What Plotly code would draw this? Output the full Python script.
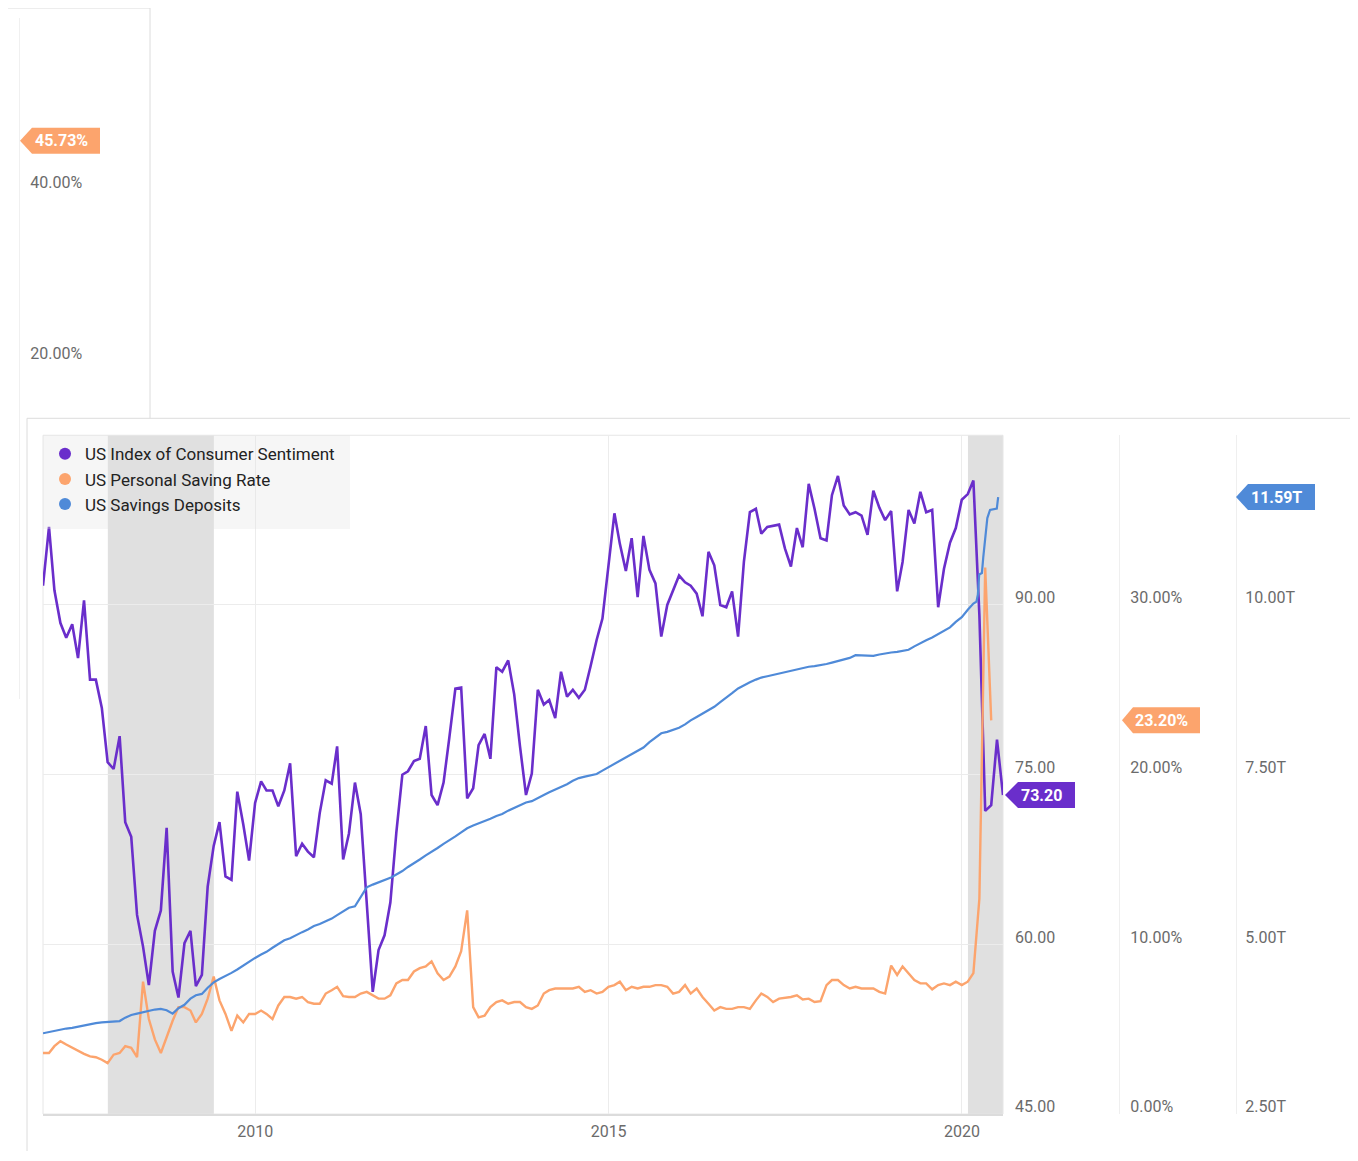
import pandas as pd
import plotly.graph_objects as go

# page body has an 8px margin; figure is sized so it fits the window
OFF = 8
FW, FH = 1342, 1145

# ---------------- data ----------------
# US Index of Consumer Sentiment, monthly, Dec 2006 .. Jul 2020
sentiment = [
    91.7,
    96.9, 91.3, 88.4, 87.1, 88.3, 85.3, 90.4, 83.4, 83.4, 80.9, 76.1, 75.5,
    78.4, 70.8, 69.5, 62.6, 59.8, 56.4, 61.2, 63.0, 70.3, 57.6, 55.3, 60.1,
    61.2, 56.3, 57.3, 65.1, 68.7, 70.8, 66.0, 65.7, 73.5, 70.6, 67.4, 72.5,
    74.4, 73.6, 73.6, 72.2, 73.6, 76.0, 67.8, 68.9, 68.2, 67.7, 71.6, 74.5,
    74.2, 77.5, 67.5, 69.8, 74.3, 71.5, 63.7, 55.8, 59.5, 60.8, 63.7, 69.9,
    75.0, 75.3, 76.2, 76.4, 79.3, 73.2, 72.3, 74.3, 78.3, 82.6, 82.7, 72.9,
    73.8, 77.6, 78.6, 76.4, 84.5, 84.1, 85.1, 82.1, 77.5, 73.2, 75.1, 82.5,
    81.2, 81.6, 80.0, 84.1, 81.9, 82.5, 81.8, 82.5, 84.6, 86.9, 88.8, 93.6,
    98.1, 95.4, 93.0, 95.9, 90.7, 96.1, 93.1, 91.9, 87.2, 90.0, 91.3, 92.6,
    92.0, 91.7, 91.0, 89.0, 94.7, 93.5, 90.0, 89.8, 91.2, 87.2, 93.8, 98.2,
    98.5, 96.3, 96.9, 97.0, 97.1, 95.0, 93.4, 96.8, 95.1, 100.7, 98.5, 95.9,
    95.7, 99.7, 101.4, 98.8, 98.0, 98.2, 97.9, 96.2, 100.1, 98.6, 97.5, 98.3,
    91.2, 93.8, 98.4, 97.2, 100.0, 98.2, 98.4, 89.8, 93.2, 95.5, 96.8, 99.3,
    99.8, 101.0, 89.1, 71.8, 72.3, 78.1, 73.2,
]

# US Personal Saving Rate (%), monthly, Dec 2006 .. May 2020
saving_rate = [
    3.6,
    3.6, 4.0, 4.3, 4.1, 3.9, 3.7, 3.55, 3.4, 3.35, 3.2, 3.0, 3.5,
    3.6, 4.0, 3.9, 3.35, 7.8, 5.6, 4.4, 3.6, 4.6, 5.5, 6.3, 6.3,
    6.1, 5.4, 5.9, 6.8, 8.1, 6.7, 5.9, 4.9, 5.8, 5.4, 5.9, 5.9,
    6.1, 5.9, 5.6, 6.4, 6.9, 6.9, 6.8, 6.9, 6.6, 6.5, 6.5, 7.1,
    7.3, 7.5, 6.95, 6.9, 6.9, 7.1, 7.2, 7.0, 6.8, 6.8, 7.0, 7.7,
    7.9, 7.9, 8.4, 8.6, 8.7, 9.0, 8.3, 7.9, 8.1, 8.7, 9.6, 12.0,
    6.3, 5.7, 5.8, 6.3, 6.6, 6.7, 6.5, 6.6, 6.6, 6.3, 6.2, 6.4,
    7.1, 7.3, 7.4, 7.4, 7.4, 7.4, 7.5, 7.2, 7.3, 7.1, 7.2, 7.5,
    7.6, 7.8, 7.3, 7.5, 7.4, 7.5, 7.5, 7.6, 7.6, 7.5, 7.1, 7.2,
    7.6, 7.1, 7.4, 6.9, 6.5, 6.1, 6.3, 6.2, 6.2, 6.3, 6.3, 6.2,
    6.7, 7.1, 6.9, 6.6, 6.8, 6.85, 6.9, 7.0, 6.75, 6.8, 6.6, 6.65,
    7.6, 7.9, 7.9, 7.6, 7.4, 7.5, 7.4, 7.4, 7.4, 7.2, 7.1, 8.75,
    8.2, 8.7, 8.3, 7.9, 7.7, 7.7, 7.35, 7.6, 7.7, 7.6, 7.8, 7.6,
    7.8, 8.3, 12.7, 32.2, 23.2,
]

# US Savings Deposits (trillions USD), month-end Dec 2006 .. Feb 2020
deposits_monthly = [
    3.69,
    3.71, 3.73, 3.74, 3.76, 3.77, 3.79, 3.81, 3.83, 3.84, 3.85, 3.86, 3.86,
    3.87, 3.92, 3.96, 3.98, 4.00, 4.03, 4.04, 4.05, 4.03, 3.98, 4.06, 4.11,
    4.20, 4.25, 4.27, 4.36, 4.44, 4.49, 4.53, 4.58, 4.63, 4.69, 4.75, 4.80,
    4.85, 4.89, 4.95, 5.01, 5.06, 5.09, 5.14, 5.18, 5.22, 5.27, 5.30, 5.34,
    5.38, 5.43, 5.48, 5.54, 5.56, 5.70, 5.84, 5.88, 5.91, 5.94, 5.98, 6.03,
    6.08, 6.14, 6.19, 6.25, 6.31, 6.37, 6.42, 6.48, 6.53, 6.59, 6.65, 6.71,
    6.75, 6.78, 6.81, 6.85, 6.89, 6.92, 6.97, 7.01, 7.05, 7.09, 7.11, 7.16,
    7.20, 7.24, 7.28, 7.32, 7.36, 7.41, 7.45, 7.47, 7.49, 7.51, 7.56, 7.61,
    7.66, 7.70, 7.75, 7.80, 7.85, 7.90, 7.98, 8.05, 8.11, 8.13, 8.16, 8.19,
    8.24, 8.30, 8.35, 8.40, 8.45, 8.50, 8.57, 8.63, 8.70, 8.77, 8.82, 8.86,
    8.90, 8.93, 8.95, 8.97, 8.99, 9.01, 9.03, 9.05, 9.07, 9.09, 9.10, 9.11,
    9.13, 9.15, 9.17, 9.19, 9.22, 9.26, 9.26, 9.25, 9.25, 9.27, 9.29, 9.30,
    9.31, 9.32, 9.34, 9.39, 9.44, 9.48, 9.52, 9.57, 9.62, 9.67, 9.75, 9.82,
    9.93, 10.02,
]
# weekly readings for 2020
deposits_2020_dates = ["2020-03-16", "2020-03-23", "2020-03-30", "2020-04-13", "2020-04-20",
                       "2020-04-27", "2020-05-11", "2020-05-25", "2020-06-29", "2020-07-06"]
deposits_2020 = [10.05, 10.15, 10.45, 10.47, 10.70, 10.92, 11.28, 11.40, 11.42, 11.59]

recessions = [("2007-12-01", "2009-06-01"), ("2020-02-01", "2020-07-31")]

series_names = ["US Index of Consumer Sentiment", "US Personal Saving Rate", "US Savings Deposits"]
sent_ticks = [45, 60, 75, 90]
rate_ticks = [0, 10, 20, 30]
dep_ticks = [2.5, 5, 7.5, 10]
upper_ticks = [20, 40]          # tick values of the partially visible upper panel
upper_last_value = 45.73

# ---------------- styling ----------------
PURPLE = "#6a2ecb"
ORANGE = "#fca46d"
BLUE = "#4f8ad8"
FONT = "Roboto"
TICK_COLOR = "#6b6b6b"
SHADE = "#e0e0e0"


def px(x):
    return min(max((x - OFF) / FW, 0), 1)


def py(y):
    return min(max(1 - (y - OFF) / FH, 0), 1)


start = "2006-12-31"
me = pd.offsets.MonthEnd()
sent_dates = pd.date_range(start, periods=len(sentiment), freq=me)
rate_dates = pd.date_range(start, periods=len(saving_rate), freq=me)
dep_dates = list(pd.date_range(start, periods=len(deposits_monthly), freq=me)) + list(pd.to_datetime(deposits_2020_dates))
deposits = deposits_monthly + deposits_2020

fig = go.Figure()

fig.add_trace(go.Scatter(x=sent_dates, y=sentiment, mode="lines", name=series_names[0],
                         line=dict(color=PURPLE, width=2.6), yaxis="y", showlegend=False))
fig.add_trace(go.Scatter(x=rate_dates, y=saving_rate, mode="lines", name=series_names[1],
                         line=dict(color=ORANGE, width=2.4), yaxis="y2", showlegend=False))
fig.add_trace(go.Scatter(x=dep_dates, y=deposits, mode="lines", name=series_names[2],
                         line=dict(color=BLUE, width=2.2), yaxis="y3", showlegend=False))

# legend entries shown as dots
for nm, col in zip(series_names, [PURPLE, ORANGE, BLUE]):
    fig.add_trace(go.Scatter(x=[None], y=[None], mode="markers", name=nm,
                             marker=dict(color=col, size=10, symbol="circle")))

# upper (partially covered) panel axis holder
fig.add_trace(go.Scatter(x=[], y=[], xaxis="x2", yaxis="y4", showlegend=False, hoverinfo="skip"))

plot_x0, plot_x1 = 43, 1003
plot_y0, plot_y1 = 436, 1116

tickfont = dict(family=FONT, size=16, color=TICK_COLOR)

fig.update_layout(
    width=FW, height=FH,
    margin=dict(l=0, r=0, t=0, b=0),
    paper_bgcolor="white", plot_bgcolor="rgba(0,0,0,0)",
    font=dict(family=FONT),
    showlegend=True,
    legend=dict(x=px(plot_x0 + 2), y=py(plot_y0 + 1), xanchor="left", yanchor="top",
                bgcolor="rgba(0,0,0,0)", borderwidth=0,
                font=dict(family=FONT, size=17, color="#222222"),
                itemsizing="constant", tracegroupgap=0),
    xaxis=dict(domain=[px(plot_x0), px(plot_x1)], type="date",
               range=["2006-12-31", "2020-07-31"],
               tick0="2010-01-01", dtick="M60", tickformat="%Y",
               showgrid=True, gridcolor="#ececec", gridwidth=1,
               showline=True, linecolor="#dcdcdc", linewidth=2,
               ticks="", ticklabelstandoff=2, tickfont=tickfont, zeroline=False, anchor="y"),
    yaxis=dict(domain=[py(plot_y1), py(plot_y0)], range=[45, 105],
               tickvals=sent_ticks, ticktext=[f"{v:.2f}" for v in sent_ticks],
               side="right", anchor="x", ticklabelposition="outside top",
               ticks="", ticklabelstandoff=11, ticklabelshift=4,
               showgrid=True, gridcolor="#ececec", zeroline=False, showline=False,
               tickfont=tickfont),
    yaxis2=dict(overlaying="y", side="right", anchor="free", position=px(1119),
                range=[0, 40], tickvals=rate_ticks, ticktext=[f"{v:.2f}%" for v in rate_ticks],
                ticklabelposition="outside top", ticks="", ticklabelstandoff=7, ticklabelshift=4,
                showgrid=False, zeroline=False, showline=True, linecolor="#efefef", linewidth=1,
                tickfont=tickfont),
    yaxis3=dict(overlaying="y", side="right", anchor="free", position=px(1236),
                range=[2.5, 12.5], tickvals=dep_ticks, ticktext=[f"{v:.2f}T" for v in dep_ticks],
                ticklabelposition="outside top", ticks="", ticklabelstandoff=5, ticklabelshift=4,
                showgrid=False, zeroline=False, showline=True, linecolor="#efefef", linewidth=1,
                tickfont=tickfont),
    xaxis2=dict(domain=[px(20), px(150)], anchor="y4", visible=False, range=[0, 1]),
    yaxis4=dict(domain=[py(700), py(18)], anchor="x2", range=[-19.65, 60.12],
                tickvals=upper_ticks, ticktext=[f"{v:.2f}%" for v in upper_ticks],
                side="left", ticklabelposition="inside top",
                ticks="", ticklabelstandoff=10, ticklabelshift=4,
                showgrid=False, zeroline=False, showline=True, linecolor="#f0f0f0", linewidth=1,
                tickfont=tickfont),
)

shapes = []
# recession shading
for a, b in recessions:
    shapes.append(dict(type="rect", xref="x", yref="paper", x0=a, x1=b,
                       y0=py(plot_y1), y1=py(plot_y0), fillcolor=SHADE,
                       line=dict(width=0), layer="between"))
# plot frame
shapes.append(dict(type="rect", xref="paper", yref="paper",
                   x0=px(plot_x0), x1=px(plot_x1), y0=py(plot_y1), y1=py(plot_y0),
                   line=dict(color="#e6e6e6", width=1), layer="below"))
# legend background box
shapes.append(dict(type="rect", xref="paper", yref="paper",
                   x0=px(plot_x0), x1=px(350), y0=py(530), y1=py(plot_y0),
                   fillcolor="rgba(225,225,225,0.3)", line=dict(width=0), layer="above"))
# panel borders of the composite
border = dict(color="#dcdcdc", width=1)
for (x0, y0, x1, y1) in [(0, 3, 150, 3), (150, 3, 150, 419), (27, 419, 1358, 419), (27, 419, 27, 1161)]:
    shapes.append(dict(type="line", xref="paper", yref="paper",
                       x0=px(x0), y0=py(y0), x1=px(x1), y1=py(y1), line=border, layer="above"))

annotations = []


def badge(axis_px, yref, value, text, color, tip, base, right, text_off, half=13):
    path = f"M{tip},0 L{base},{half} L{right},{half} L{right},{-half} L{base},{-half} Z"
    shapes.append(dict(type="path", xref="paper", yref=yref,
                       xsizemode="pixel", ysizemode="pixel",
                       xanchor=px(axis_px), yanchor=value, path=path,
                       fillcolor=color, line=dict(width=0), layer="above"))
    annotations.append(dict(xref="paper", yref=yref, x=px(axis_px), y=value,
                            xshift=text_off, text=f"<b>{text}</b>", showarrow=False,
                            xanchor="center", yanchor="middle",
                            font=dict(family=FONT, size=16, color="white")))


badge(plot_x1, "y", sentiment[-1], f"{sentiment[-1]:.2f}", PURPLE, 2, 15, 72, 38)
badge(1119, "y2", saving_rate[-1], f"{saving_rate[-1]:.2f}%", ORANGE, 3, 14, 81, 42)
badge(1236, "y3", deposits[-1], f"{deposits[-1]:.2f}T", BLUE, 0, 12, 79, 40)
badge(20, "y4", upper_last_value, f"{upper_last_value:.2f}%", ORANGE, 0, 12, 80, 41)

fig.update_layout(shapes=shapes, annotations=annotations)

fig.write_html("out.html")
